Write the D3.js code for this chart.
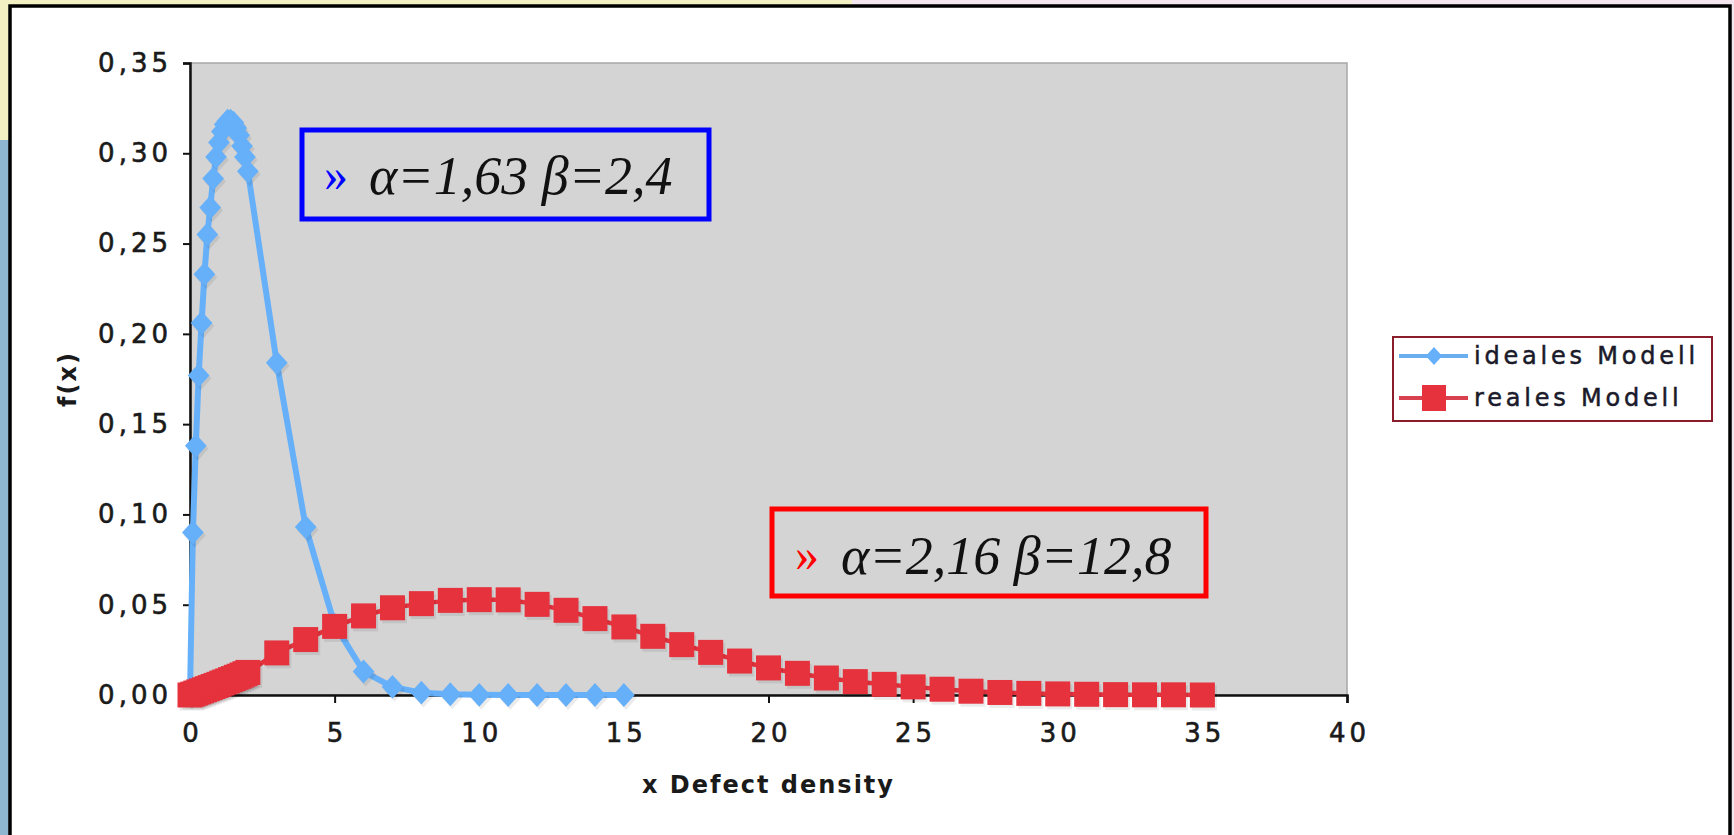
<!DOCTYPE html>
<html>
<head>
<meta charset="utf-8">
<script src="https://cdn.jsdelivr.net/npm/d3@7"></script>
<style>
  html, body { margin: 0; padding: 0; background: #f4e6ee; }
  svg { display: block; }
  .tick text { font-family: "DejaVu Sans", Verdana, sans-serif; }
</style>
</head>
<body>
<div id="chart"></div>
<script>
// values
var idealX = [0, 0.1, 0.2, 0.3, 0.4, 0.5, 0.6, 0.7, 0.8, 0.9, 1.0, 1.1, 1.2, 1.3, 1.4, 1.5, 1.6, 1.7, 1.8, 1.9, 2.0,
              3, 4, 5, 6, 7, 8, 9, 10, 11, 12, 13, 14, 15];
var idealY = [0, 0.090, 0.138, 0.177, 0.206, 0.233, 0.255, 0.270, 0.286, 0.298, 0.306, 0.312, 0.316, 0.318, 0.318,
              0.317, 0.314, 0.310, 0.304, 0.298, 0.290,
              0.184, 0.093, 0.039, 0.013, 0.0045, 0.0013, 0.0004, 0.0001, 0, 0, 0, 0, 0, 0];
var realX = [0, 0.1, 0.2, 0.3, 0.4, 0.5, 0.6, 0.7, 0.8, 0.9, 1.0, 1.1, 1.2, 1.3, 1.4, 1.5, 1.6, 1.7, 1.8, 1.9, 2.0,
             3, 4, 5, 6, 7, 8, 9, 10, 11, 12, 13, 14, 15, 16, 17, 18, 19, 20,
             21, 22, 23, 24, 25, 26, 27, 28, 29, 30, 31, 32, 33, 34, 35];
var realY = [0, 0.0005, 0.0011, 0.0017, 0.0023, 0.0029, 0.0035, 0.0041, 0.0047, 0.0053, 0.0059, 0.0066, 0.0072,
             0.0078, 0.0085, 0.0091, 0.0098, 0.0104, 0.0111, 0.0118, 0.0125,
             0.0233, 0.0307, 0.0380, 0.0438, 0.0483, 0.0506, 0.0524, 0.0528, 0.0527, 0.0502, 0.0469, 0.0423,
             0.0377, 0.0325, 0.0279, 0.0236, 0.0188, 0.0150, 0.0120, 0.0094, 0.0074, 0.0059, 0.0045, 0.0032,
             0.0021, 0.0014, 0.0009, 0.0006, 0.0004, 0.0002, 0.0001, 0.0001, 0];
var seriesNames = ["ideales Modell", "reales Modell"];
var xTicks = [0, 5, 10, 15, 20, 25, 30, 35, 40];
var yTicks = [0, 0.05, 0.10, 0.15, 0.20, 0.25, 0.30, 0.35];
var notes = [
  {lead: "\u00bb", text: "\u03b1=1,63 \u03b2=2,4", color: "#0000ff"},
  {lead: "\u00bb", text: "\u03b1=2,16 \u03b2=12,8", color: "#ff0000"}
];

var W = 1734, H = 835;
var plot = {left: 190, right: 1347, top: 63, bottom: 695};
var blue = "#66b0fa", red = "#e5323d";

var svg = d3.select("#chart").append("svg")
    .attr("width", W)
    .attr("height", H);

// slide background around the white panel
svg.append("rect").attr("x", 0).attr("y", 0).attr("width", W).attr("height", H).attr("fill", "#f4e6ee");
svg.append("rect").attr("x", 0).attr("y", 0).attr("width", 852).attr("height", 140).attr("fill", "#f3f0c4");
svg.append("rect").attr("x", 0).attr("y", 140).attr("width", 9).attr("height", H - 140).attr("fill", "#8fb6d0");
svg.append("rect")
    .attr("x", 10).attr("y", 6)
    .attr("width", 1720).attr("height", H + 20)
    .attr("fill", "#fff")
    .attr("stroke", "#000")
    .attr("stroke-width", 3.5);

var x = d3.scaleLinear().domain([0, 40]).range([plot.left, plot.right]);
var y = d3.scaleLinear().domain([0, 0.35]).range([plot.bottom, plot.top]);

// plot area
svg.append("rect")
    .attr("x", x(0)).attr("y", y(0.35))
    .attr("width", x(40) - x(0)).attr("height", y(0) - y(0.35))
    .attr("fill", "#d4d4d4")
    .attr("stroke", "#a8a8a8")
    .attr("stroke-width", 1.5);

var fmt = function(d) { return d3.format(".2f")(d).replace(".", ","); };

var yAxis = svg.append("g")
    .attr("transform", "translate(" + x(0) + ",0)")
    .call(d3.axisLeft(y).tickValues(yTicks).tickFormat(fmt).tickSize(7).tickPadding(11));
var xAxis = svg.append("g")
    .attr("transform", "translate(0," + y(0) + ")")
    .call(d3.axisBottom(x).tickValues(xTicks).tickSize(8).tickPadding(21));

[xAxis, yAxis].forEach(function(g) {
    g.select(".domain").attr("stroke", "#111").attr("stroke-width", 2.5);
    g.selectAll(".tick line").attr("stroke", "#111").attr("stroke-width", 2);
    g.selectAll(".tick text")
        .attr("fill", "#1a1a1a")
        .attr("stroke", "#1a1a1a")
        .attr("stroke-width", 0.6)
        .style("font-size", "26px")
        .style("letter-spacing", "4px");
});
xAxis.selectAll(".tick text").attr("dx", 2);

// axis titles
svg.append("text")
    .attr("transform", "translate(76," + ((plot.top + plot.bottom) / 2) + ") rotate(-90)")
    .attr("text-anchor", "middle")
    .style("font-family", "'DejaVu Sans', Verdana, sans-serif")
    .style("font-weight", "bold")
    .style("font-size", "24px")
    .style("letter-spacing", "2px")
    .attr("fill", "#1a1a1a")
    .text("f(x)");

svg.append("text")
    .attr("x", (plot.left + plot.right) / 2)
    .attr("y", 793)
    .attr("text-anchor", "middle")
    .style("font-family", "'DejaVu Sans', Verdana, sans-serif")
    .style("font-weight", "bold")
    .style("font-size", "24px")
    .style("letter-spacing", "2px")
    .attr("fill", "#1a1a1a")
    .text("x Defect density");

var line = d3.line()
    .x(function(d) { return x(d[0]); })
    .y(function(d) { return y(d[1]); });

var ideal = idealX.map(function(v, i) { return [v, idealY[i]]; });
var real = realX.map(function(v, i) { return [v, realY[i]]; });

var diamond = d3.symbol().type(d3.symbolDiamond2).size(300);

function drawSeries(data, color, width, marker) {
    var g = svg.append("g");
    g.append("path")
        .datum(data)
        .attr("d", line)
        .attr("fill", "none")
        .attr("stroke", color)
        .attr("stroke-width", width)
        .attr("stroke-linejoin", "round");
    // soft shadow under the markers
    marker(g.selectAll(".shadow").data(data).enter(), 2, 3)
        .attr("fill", "#000")
        .attr("opacity", 0.08);
    marker(g.selectAll(".mark").data(data).enter(), 0, 0)
        .attr("fill", color);
}

function diamonds(sel, dx, dy) {
    return sel.append("path")
        .attr("d", diamond)
        .attr("transform", function(d) {
            return "translate(" + (x(d[0]) + dx) + "," + (y(d[1]) + dy) + ") scale(1,1.1)";
        });
}

function squares(sel, dx, dy) {
    var s = 25;
    return sel.append("rect")
        .attr("x", function(d) { return x(d[0]) - s / 2 + dx; })
        .attr("y", function(d) { return y(d[1]) - s / 2 + dy; })
        .attr("width", s)
        .attr("height", s);
}

drawSeries(ideal, blue, 6, diamonds);
drawSeries(real, red, 4.5, squares);

// annotation boxes
var noteBoxes = [
    {x: 302, y: 130, w: 407, h: 89, tx: 324, ax: 369, ty: 194},
    {x: 772, y: 509, w: 434, h: 87, tx: 795, ax: 841, ty: 574}
];
noteBoxes.forEach(function(b, i) {
    var n = notes[i];
    svg.append("rect")
        .attr("x", b.x).attr("y", b.y)
        .attr("width", b.w).attr("height", b.h)
        .attr("fill", "none")
        .attr("stroke", n.color)
        .attr("stroke-width", 5);
    svg.append("text")
        .attr("x", b.tx).attr("y", b.ty - 3)
        .style("font-family", "'Liberation Serif', 'Times New Roman', serif")
        .style("font-size", "48px")
        .attr("fill", n.color)
        .text(n.lead);
    svg.append("text")
        .attr("x", b.ax).attr("y", b.ty)
        .style("font-family", "'Liberation Serif', 'Times New Roman', serif")
        .style("font-size", "54px")
        .style("font-style", "italic")
        .attr("fill", "#111")
        .text(n.text);
});

// legend
var legend = svg.append("g");
legend.append("rect")
    .attr("x", 1393).attr("y", 337)
    .attr("width", 319).attr("height", 84)
    .attr("fill", "#fff")
    .attr("stroke", "#8a1c2c")
    .attr("stroke-width", 2);

var rows = [
    {name: seriesNames[0], color: blue, y: 356},
    {name: seriesNames[1], color: red, y: 398}
];
rows.forEach(function(r, i) {
    legend.append("line")
        .attr("x1", 1399).attr("x2", 1468)
        .attr("y1", r.y).attr("y2", r.y)
        .attr("stroke", i === 0 ? "#6aaef0" : "#d8414d")
        .attr("stroke-width", 4);
    if (i === 0) {
        legend.append("path")
            .attr("d", d3.symbol().type(d3.symbolDiamond2).size(170))
            .attr("transform", "translate(1434," + r.y + ") scale(1,1.1)")
            .attr("fill", r.color);
    } else {
        legend.append("rect")
            .attr("x", 1422).attr("y", r.y - 13)
            .attr("width", 24).attr("height", 26)
            .attr("fill", r.color);
    }
    legend.append("text")
        .attr("x", 1474)
        .attr("y", r.y + 8)
        .style("font-family", "'DejaVu Sans', Verdana, sans-serif")
        .style("font-size", "24px")
        .style("letter-spacing", "3.8px")
        .attr("fill", "#1a1a2a")
        .attr("stroke", "#1a1a2a")
        .attr("stroke-width", 0.5)
        .text(r.name);
});
</script>
</body>
</html>
